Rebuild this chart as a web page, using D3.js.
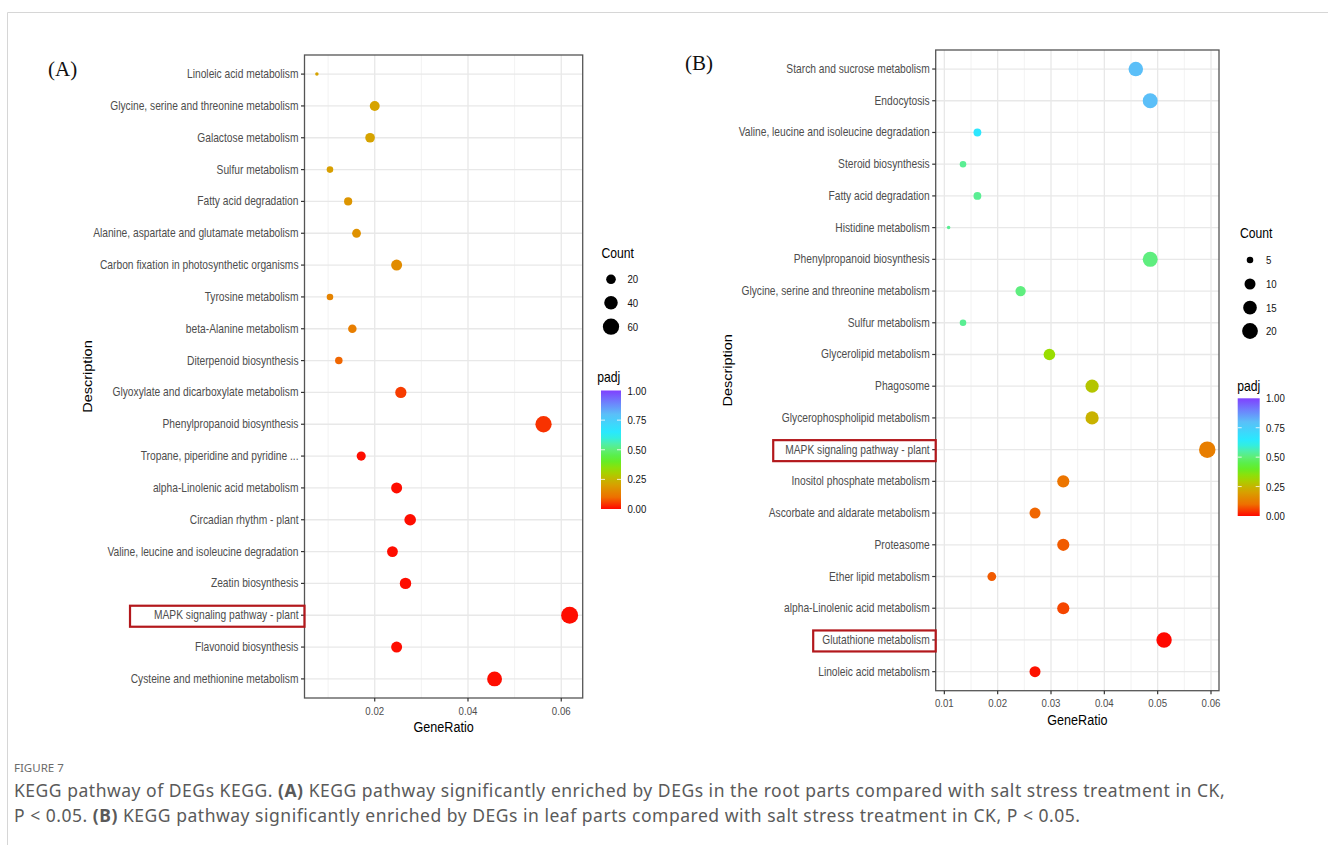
<!DOCTYPE html>
<html><head><meta charset="utf-8">
<script src="https://cdn.jsdelivr.net/npm/d3@7"></script>
<style>
body{margin:0;background:#fff;}
svg{display:block;font-family:"Liberation Sans",Arial,Helvetica,sans-serif;}
</style>
</head><body>
<svg id="chart" width="1328" height="845"></svg>
<script>
// ---------------- DATA ----------------
const categoriesA = [
  "Linoleic acid metabolism",
  "Glycine, serine and threonine metabolism",
  "Galactose metabolism",
  "Sulfur metabolism",
  "Fatty acid degradation",
  "Alanine, aspartate and glutamate metabolism",
  "Carbon fixation in photosynthetic organisms",
  "Tyrosine metabolism",
  "beta-Alanine metabolism",
  "Diterpenoid biosynthesis",
  "Glyoxylate and dicarboxylate metabolism",
  "Phenylpropanoid biosynthesis",
  "Tropane, piperidine and pyridine ...",
  "alpha-Linolenic acid metabolism",
  "Circadian rhythm - plant",
  "Valine, leucine and isoleucine degradation",
  "Zeatin biosynthesis",
  "MAPK signaling pathway - plant",
  "Flavonoid biosynthesis",
  "Cysteine and methionine metabolism"
];
const geneRatioA = [0.0076,0.0200,0.0190,0.0104,0.0143,0.0161,0.0247,0.0104,0.0152,0.0123,
                    0.0256,0.0562,0.0171,0.0247,0.0276,0.0238,0.0266,0.0618,0.0247,0.0457];
const countA     = [8,21,20,11,15,17,26,11,16,13,27,60,18,26,29,25,28,66,26,49];
const padjA      = [0.21,0.21,0.21,0.20,0.18,0.17,0.16,0.14,0.13,0.09,
                    0.05,0.04,0.005,0.005,0.005,0.005,0.005,0.005,0.005,0.005];

const categoriesB = [
  "Starch and sucrose metabolism",
  "Endocytosis",
  "Valine, leucine and isoleucine degradation",
  "Steroid biosynthesis",
  "Fatty acid degradation",
  "Histidine metabolism",
  "Phenylpropanoid biosynthesis",
  "Glycine, serine and threonine metabolism",
  "Sulfur metabolism",
  "Glycerolipid metabolism",
  "Phagosome",
  "Glycerophospholipid metabolism",
  "MAPK signaling pathway - plant",
  "Inositol phosphate metabolism",
  "Ascorbate and aldarate metabolism",
  "Proteasome",
  "Ether lipid metabolism",
  "alpha-Linolenic acid metabolism",
  "Glutathione metabolism",
  "Linoleic acid metabolism"
];
const geneRatioB = [0.0459,0.0486,0.0162,0.0135,0.0162,0.0108,0.0486,0.0243,0.0135,0.0297,
                    0.0377,0.0377,0.0593,0.0323,0.0270,0.0323,0.0189,0.0323,0.0512,0.0270];
const countB     = [17,18,6,5,6,4,18,9,5,11,14,14,22,12,10,12,7,12,19,10];
const padjB      = [0.80,0.80,0.66,0.53,0.53,0.53,0.51,0.51,0.53,0.33,
                    0.28,0.24,0.13,0.11,0.09,0.08,0.08,0.06,0.00,0.01];

const xTicksA = [0.02,0.04,0.06];
const xMinorA = [0.01,0.03,0.05];
const xTicksB = [0.01,0.02,0.03,0.04,0.05,0.06];
const xMinorB = [0.015,0.025,0.035,0.045,0.055];
const countBreaksA = [20,40,60];
const countBreaksB = [5,10,15,20];
const padjBreaks = [0,0.25,0.5,0.75,1];
const highlightA = ["MAPK signaling pathway - plant"];
const highlightB = ["MAPK signaling pathway - plant","Glutathione metabolism"];

const captionTitle = "FIGURE 7";
const captionLine1 = [["KEGG pathway of DEGs KEGG. ",false],["(A)",true],[" KEGG pathway significantly enriched by DEGs in the root parts compared with salt stress treatment in CK,",false]];
const captionLine2 = [["P < 0.05. ",false],["(B)",true],[" KEGG pathway significantly enriched by DEGs in leaf parts compared with salt stress treatment in CK, P < 0.05.",false]];

// ---------------- STYLE ----------------
const padjStops  = [0, 0.1, 0.22, 0.33, 0.42, 0.52, 0.63, 0.8, 1];
const padjColors = ["#FF0800","#EE7000","#D4A800","#99DD00","#58F030","#60EE88","#22EEFF","#5BBFF8","#8040FF"];
const color = d3.scaleLinear().domain(padjStops).range(padjColors).interpolate(d3.interpolateRgb).clamp(true);
const SX = 0.84; // horizontal squeeze of the original picture

const svg = d3.select("#chart");
svg.append("rect").attr("width",1328).attr("height",845).attr("fill","#fff");
// card border
svg.append("path").attr("d","M7.5,845 V12.5 H1328").attr("fill","none").attr("stroke","#d6d6d6").attr("stroke-width",1);

function sizeScale(cmin,cmax,dmin,dmax){
  const lin = d3.scaleLinear().domain([cmin,cmax]).range([0,1]).clamp(true);
  const sq = d3.scaleSqrt().domain([0,1]).range([dmin/2,dmax/2]);
  return c => sq(lin(c));
}

function sqText(g, x, y, txt, opts){
  const t = g.append("text")
    .attr("transform",`translate(${x},${y}) scale(${SX},1)`)
    .attr("text-anchor",opts.anchor||"start")
    .attr("font-size",opts.size)
    .attr("fill",opts.fill||"#000")
    .text(txt);
  if(opts.family) t.attr("font-family",opts.family);
  return t;
}

function panel(cfg){
  const g = svg.append("g");
  const x = d3.scaleLinear().domain(cfg.xDomain).range([cfg.left,cfg.right]);
  const y = d3.scalePoint().domain(cfg.cats).range([cfg.top,cfg.bottom]).padding(0.6);
  const r = sizeScale(cfg.cmin,cfg.cmax,cfg.dmin,cfg.dmax);

  // grid
  const grid = g.append("g");
  grid.selectAll(".mn").data(cfg.xMinor).join("line")
    .attr("x1",d=>x(d)).attr("x2",d=>x(d)).attr("y1",cfg.top).attr("y2",cfg.bottom)
    .attr("stroke","#EFEFEF").attr("stroke-width",0.8);
  grid.selectAll(".mj").data(cfg.xTicks).join("line")
    .attr("x1",d=>x(d)).attr("x2",d=>x(d)).attr("y1",cfg.top).attr("y2",cfg.bottom)
    .attr("stroke","#E8E8E8").attr("stroke-width",1.3);
  grid.selectAll(".hy").data(cfg.cats).join("line")
    .attr("x1",cfg.left).attr("x2",cfg.right).attr("y1",d=>y(d)).attr("y2",d=>y(d))
    .attr("stroke","#E8E8E8").attr("stroke-width",1.3);

  // points
  g.append("g").selectAll("circle").data(cfg.cats).join("circle")
    .attr("cx",(d,i)=>x(cfg.gr[i])).attr("cy",d=>y(d))
    .attr("r",(d,i)=>r(cfg.count[i]))
    .attr("fill",(d,i)=>color(cfg.padj[i]));

  // border
  g.append("rect").attr("x",cfg.left).attr("y",cfg.top)
    .attr("width",cfg.right-cfg.left).attr("height",cfg.bottom-cfg.top)
    .attr("fill","none").attr("stroke","#555").attr("stroke-width",1.3);

  // y axis ticks + labels
  const ya = g.append("g");
  cfg.cats.forEach(c=>{
    ya.append("line").attr("x1",cfg.left-3.5).attr("x2",cfg.left).attr("y1",y(c)).attr("y2",y(c))
      .attr("stroke","#333").attr("stroke-width",1.2);
    const t = sqText(ya, cfg.left-6, y(c)+4, c, {anchor:"end",size:12.2,fill:"#4D4D4D"});
    const hl = cfg.highlight.find(h=>h.label===c);
    if(hl){
      const w = t.node().getComputedTextLength()*SX;
      ya.append("rect").attr("x",cfg.left-6-w-hl.pad).attr("y",y(c)-9.5)
        .attr("width",w+hl.pad+6).attr("height",21)
        .attr("fill","none").attr("stroke","#B3181C").attr("stroke-width",2.2);
    }
  });
  // x axis
  const xa = g.append("g");
  cfg.xTicks.forEach(v=>{
    xa.append("line").attr("x1",x(v)).attr("x2",x(v)).attr("y1",cfg.bottom).attr("y2",cfg.bottom+3.5)
      .attr("stroke","#333").attr("stroke-width",1.2);
    sqText(xa, x(v), cfg.bottom+16.5, d3.format(cfg.fmt)(v), {anchor:"middle",size:11.5,fill:"#4D4D4D"});
  });
  sqText(g,(cfg.left+cfg.right)/2, cfg.xLabelY, "GeneRatio", {anchor:"middle",size:15,fill:"#000"});
  g.append("text").attr("transform",`translate(${cfg.yLabelX},${(cfg.top+cfg.bottom)/2}) rotate(-90) scale(1,${SX})`)
    .attr("text-anchor","middle").attr("font-size",14.5).attr("fill","#000").text("Description");
  // panel letter
  g.append("text").attr("x",cfg.letterX).attr("y",cfg.letterY)
    .attr("font-family","'Liberation Serif','Times New Roman',serif").attr("font-size",21)
    .attr("fill","#111").text(cfg.letter);

  // legend: Count
  const L = cfg.legend;
  sqText(g, L.x, L.countY, "Count", {size:14.5});
  cfg.countBreaks.forEach((c,i)=>{
    const cy = L.dotY[i];
    g.append("circle").attr("cx",L.dotX).attr("cy",cy).attr("r",r(c)).attr("fill","#000");
    sqText(g, L.labX, cy+4, String(c), {size:11.5,fill:"#111"});
  });
  // legend: padj colorbar
  sqText(g, L.padjX, L.padjY, "padj", {size:14.5});
  const gid = "grad"+cfg.letter.replace(/\W/g,"");
  const grad = svg.append("defs").append("linearGradient").attr("id",gid)
    .attr("x1",0).attr("y1",1).attr("x2",0).attr("y2",0);
  d3.range(0,1.0001,0.05).forEach(t=>grad.append("stop").attr("offset",t).attr("stop-color",color(t)));
  g.append("rect").attr("x",L.barX).attr("y",L.barTop).attr("width",L.barW).attr("height",L.barBot-L.barTop)
    .attr("fill",`url(#${gid})`);
  const cb = d3.scaleLinear().domain([0,1]).range([L.barBot,L.barTop]);
  padjBreaks.forEach(v=>{
    if(v>0 && v<1){
      [[L.barX,L.barX+4],[L.barX+L.barW-4,L.barX+L.barW]].forEach(([a,b])=>
        g.append("line").attr("x1",a).attr("x2",b).attr("y1",cb(v)).attr("y2",cb(v))
          .attr("stroke","#fff").attr("stroke-width",1).attr("opacity",0.8));
    }
    sqText(g, L.labX, cb(v)+4, d3.format(".2f")(v), {size:11.5,fill:"#111"});
  });
}

panel({
  letter:"(A)", letterX:48, letterY:76,
  cats:categoriesA, gr:geneRatioA, count:countA, padj:padjA,
  left:304.5, right:582.7, top:55, bottom:698,
  xDomain:[0.00494,0.0646], xTicks:xTicksA, xMinor:xMinorA, fmt:".2f",
  cmin:8, cmax:66, dmin:3.5, dmax:17,
  xLabelY:732, yLabelX:92,
  highlight:highlightA.map(l=>({label:l,pad:24})),
  countBreaks:countBreaksA,
  legend:{x:601.5,countY:258,dotX:611,dotY:[279.3,302.7,326.7],labX:627.5,
          padjX:597.3,padjY:382,barX:601,barW:20,barTop:390.5,barBot:509}
});

panel({
  letter:"(B)", letterX:685, letterY:70,
  cats:categoriesB, gr:geneRatioB, count:countB, padj:padjB,
  left:935.7, right:1219, top:50, bottom:690.7,
  xDomain:[0.00838,0.0615], xTicks:xTicksB, xMinor:xMinorB, fmt:".2f",
  cmin:4, cmax:22, dmin:3.5, dmax:16.5,
  xLabelY:725, yLabelX:732,
  highlight:[{label:highlightB[0],pad:12},{label:highlightB[1],pad:9}],
  countBreaks:countBreaksB,
  legend:{x:1240,countY:238,dotX:1250,dotY:[260,284,307.7,331],labX:1266,
          padjX:1237.3,padjY:391,barX:1237.7,barW:22,barTop:398.3,barBot:516}
});

// caption
const cap = svg.append("g").attr("font-family","'Noto Sans','Open Sans',sans-serif");
cap.append("text").attr("x",14).attr("y",772).attr("font-size",11.5).attr("fill","#6b6b6b")
  .text(captionTitle);
[[captionLine1,797],[captionLine2,822]].forEach(([parts,yy])=>{
  const t = cap.append("text").attr("x",14).attr("y",yy).attr("font-size",17.5)
    .attr("letter-spacing",0.52).attr("fill","#5a5a5a");
  parts.forEach(([s,b])=>t.append("tspan").attr("font-weight",b?"bold":null).text(s));
});
</script>
</body></html>
